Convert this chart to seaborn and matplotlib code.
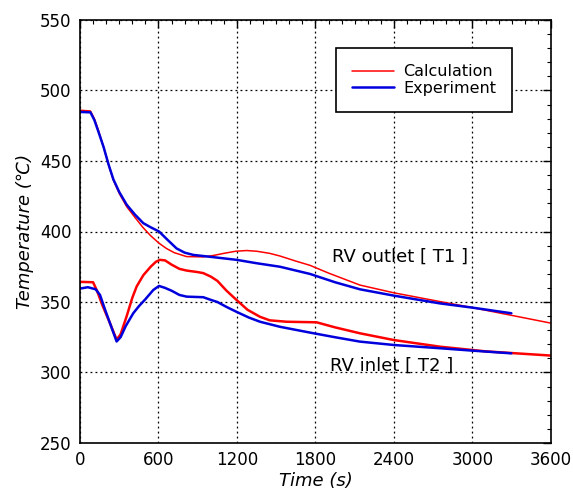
import numpy as np
import pandas as pd
import matplotlib
matplotlib.use("Agg")
import matplotlib.pyplot as plt
import seaborn as sns
from matplotlib.ticker import MultipleLocator

# Data
t_calc_out = [0, 80, 110, 140, 180, 220, 255, 300, 357, 420, 480, 540, 604, 660, 720, 815, 942, 1020,
              1100, 1190, 1274, 1350, 1450, 1529, 1650, 1758, 1900, 2140, 2400, 2752, 3000, 3300, 3600]
calc_out = [486, 485.5, 480, 472, 460, 447, 436.5, 427, 417.6, 410, 403, 397, 391.7, 388, 385, 382.2, 382, 383,
            384.5, 386, 386.5, 386, 384.5, 382.6, 379, 376, 370.5, 362, 356.5, 350.3, 346, 340.5, 335]

t_exp_out = [0, 80, 110, 140, 180, 220, 255, 300, 357, 420, 484, 540, 604, 670, 738, 800, 866, 1000,
             1197, 1350, 1529, 1758, 1950, 2140, 2400, 2752, 3000, 3297]
exp_out = [484.8, 484.5, 479, 471, 460, 447, 437, 428, 419, 412, 405.9, 403, 400, 394, 388, 385, 383.4, 382,
           379.9, 377.5, 375, 369.9, 364, 359, 354.5, 349, 346, 342]

t_calc_in = [0, 100, 130, 170, 229, 280, 310, 357, 400, 433, 484, 540, 580, 611, 650, 700, 760, 815, 900,
             942, 1000, 1050, 1120, 1197, 1280, 1376, 1450, 1579, 1808, 1950, 2140, 2400, 2752, 3100, 3600]
calc_in = [364.3, 364, 358, 348, 335, 323.3, 327, 340, 353, 361, 369, 375, 378.5, 379.9, 379.5, 376.5, 373.5, 372.3, 371.2,
           370.5, 368, 365, 358, 351.4, 344.5, 339.5, 337, 336, 335.6, 332, 327.8, 323, 318.3, 315, 312]

t_exp_in = [0, 60, 120, 153, 190, 229, 280, 310, 350, 407, 450, 500, 560, 604, 650, 700, 760, 815, 942,
            1000, 1050, 1120, 1197, 1290, 1376, 1529, 1758, 1950, 2140, 2400, 2752, 3000, 3297]
exp_in = [359.5, 360.5, 359, 355, 345, 335, 322, 325, 333, 342, 347, 352, 358.5, 361.4, 360, 358, 355, 353.8, 353.4,
          351.5, 350, 346.5, 343, 339, 336, 332.4, 328.3, 325, 321.9, 319.5, 317.2, 315.5, 313.6]

series_labels = ["Calculation", "Experiment"]
x_ticks = [0, 600, 1200, 1800, 2400, 3000, 3600]
y_ticks = [250, 300, 350, 400, 450, 500, 550]

sns.set_style("white")
plt.rcParams['font.family'] = ['DejaVu Sans']
plt.rcParams['text.color'] = 'black'
plt.rcParams['axes.labelcolor'] = 'black'

fig = plt.figure(figsize=(5.73, 5.0), dpi=100)
ax = fig.add_axes([0.1396, 0.114, 0.822, 0.846])

def frame(t, v):
    return pd.DataFrame({"t": t, "v": v})

sns.lineplot(data=frame(t_calc_out, calc_out), x="t", y="v", ax=ax, color="#ff0000", lw=1.1, label=series_labels[0], sort=False)
sns.lineplot(data=frame(t_exp_out, exp_out), x="t", y="v", ax=ax, color="#0000dd", lw=1.8, label=series_labels[1], sort=False)
sns.lineplot(data=frame(t_calc_in, calc_in), x="t", y="v", ax=ax, color="#ff0000", lw=1.8, sort=False)
sns.lineplot(data=frame(t_exp_in, exp_in), x="t", y="v", ax=ax, color="#0000dd", lw=1.8, sort=False)

ax.set_xlim(0, 3600)
ax.set_ylim(250, 550)
ax.set_xticks(x_ticks)
ax.set_yticks(y_ticks)
ax.xaxis.set_minor_locator(MultipleLocator(100))
ax.yaxis.set_minor_locator(MultipleLocator(10))
ax.tick_params(which="both", direction="in", top=True, right=True, color="black", labelcolor="black")
ax.tick_params(which="major", length=6, width=1, labelsize=12, pad=6)
ax.tick_params(which="minor", length=3, width=0.8)
ax.grid(True, which="major", color="black", linestyle=(0, (1.5, 2.5)), lw=0.9)
for s in ax.spines.values():
    s.set_color("black")
    s.set_linewidth(1.2)

ax.set_xlabel("Time (s)", fontsize=13, style="italic", labelpad=2)
ax.set_ylabel("Temperature (\u2103)", fontsize=13, style="italic", labelpad=4)

leg = ax.legend(loc="upper left", bbox_to_anchor=(0.527, 0.952), fontsize=11.5, frameon=True,
                fancybox=False, edgecolor="black", framealpha=1, handlelength=2.6,
                borderpad=1.0, labelspacing=0.1, handletextpad=0.6)
leg.get_frame().set_linewidth(1.2)

ax.text(1925, 382, "RV outlet [ T1 ]", fontsize=13, va="center", ha="left")
ax.text(1910, 305, "RV inlet [ T2 ]", fontsize=13, va="center", ha="left")

fig.savefig("out.png", dpi=100)
